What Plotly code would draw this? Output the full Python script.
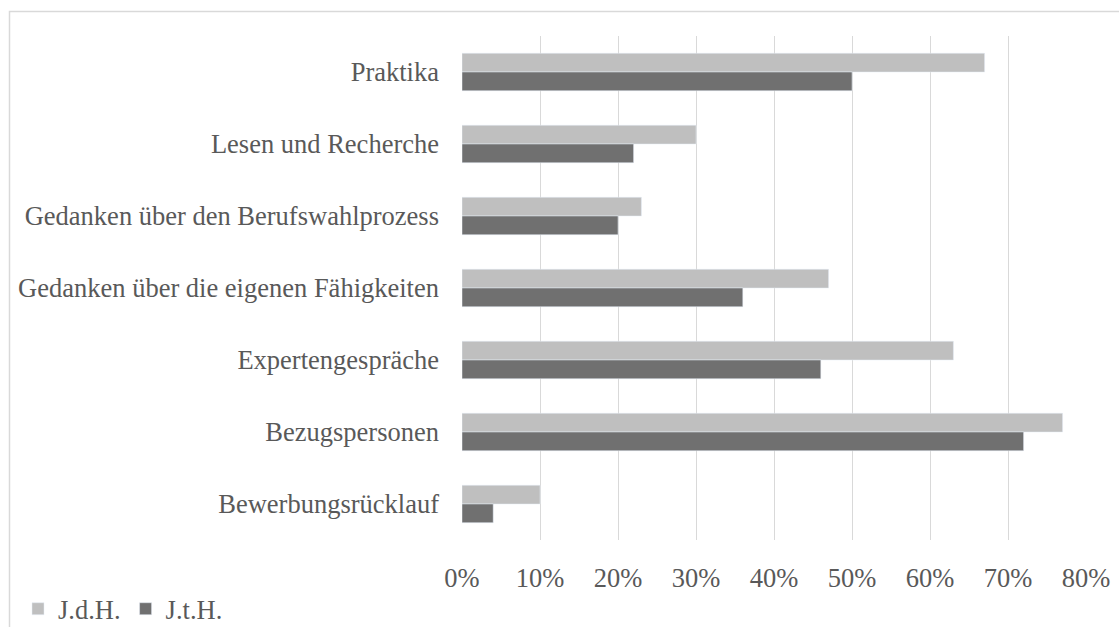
import plotly.graph_objects as go

categories = [
    "Praktika",
    "Lesen und Recherche",
    "Gedanken über den Berufswahlprozess",
    "Gedanken über die eigenen Fähigkeiten",
    "Expertengespräche",
    "Bezugspersonen",
    "Bewerbungsrücklauf",
]
jdh_values = [0.67, 0.30, 0.23, 0.47, 0.63, 0.77, 0.10]
jth_values = [0.50, 0.22, 0.20, 0.36, 0.46, 0.72, 0.04]
series_names = ["J.d.H.", "J.t.H."]

W, H = 1119, 627
ML, MR, MT, MB = 462, 33, 36, 87
pw = W - ML - MR
ph = H - MT - MB

def px_x(x):
    return (x - ML) / pw

def px_y(y):
    return (H - MB - y) / ph

font_family = "Liberation Serif, Times New Roman, serif"
text_color = "#595959"

fig = go.Figure()
fig.add_trace(go.Bar(y=categories, x=jdh_values, name=series_names[0], orientation="h",
                     marker=dict(color="#bfbfbf")))
fig.add_trace(go.Bar(y=categories, x=jth_values, name=series_names[1], orientation="h",
                     marker=dict(color="#707070")))

fig.update_layout(
    width=W, height=H,
    margin=dict(l=ML, r=MR, t=MT, b=MB, autoexpand=False),
    paper_bgcolor="white", plot_bgcolor="white",
    barmode="group", bargap=0.48, bargroupgap=0,
    font=dict(family=font_family, size=26.5, color=text_color),
    showlegend=True,
    legend=dict(orientation="h", xref="container", yref="container",
                x=18 / W, y=1 - 585 / H, xanchor="left", yanchor="top",
                font=dict(size=26.5, color=text_color, family=font_family), itemwidth=30,
                tracegroupgap=0, bgcolor="rgba(0,0,0,0)"),
    shapes=[dict(type="rect", xref="paper", yref="paper",
                 x0=px_x(9.5), x1=px_x(1135), y0=px_y(645), y1=px_y(11.5),
                 line=dict(color="#d9d9d9", width=1.5), fillcolor="rgba(0,0,0,0)",
                 layer="below")],
)
fig.update_xaxes(range=[0, 0.8], dtick=0.1, tickformat=".0%",
                 showgrid=True, gridcolor="#d9d9d9", gridwidth=1.3,
                 zeroline=False, showline=False, ticks="",
                 ticklabelstandoff=19,
                 tickfont=dict(size=26.5, color=text_color, family=font_family))
fig.update_yaxes(autorange="reversed", showgrid=False, zeroline=False, showline=False,
                 ticks="", ticklabelstandoff=22,
                 tickfont=dict(size=26.5, color=text_color, family=font_family))

fig.write_html("out.html", config={"displayModeBar": False},
               post_script="document.body.style.margin='0';document.body.style.overflow='hidden';")
